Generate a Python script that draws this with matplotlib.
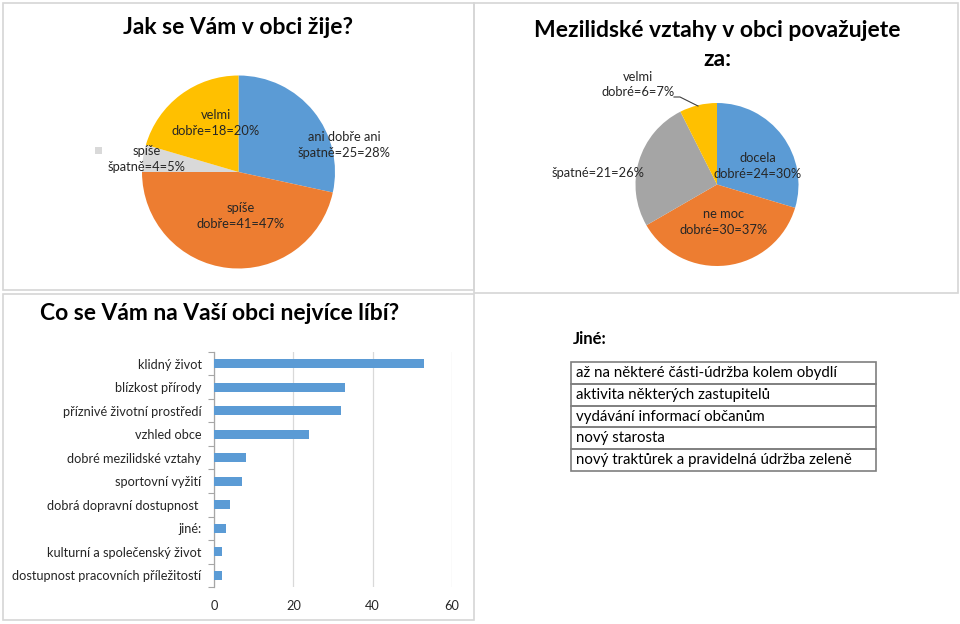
import matplotlib
matplotlib.use("Agg")
import matplotlib.pyplot as plt
from matplotlib.patches import Rectangle
from matplotlib.lines import Line2D

plt.rcParams["font.family"] = ["Lato", "DejaVu Sans"]

W, H = 960, 624

# --- data -----------------------------------------------------------
life_labels = ["ani dobře ani\nšpatně=25=28%", "spíše\ndobře=41=47%",
               "spíše\nšpatně=4=5%", "velmi\ndobře=18=20%"]
life_values = [25, 41, 4, 18]
life_colors = ["#5b9bd5", "#ed7d31", "#d9d9d9", "#ffc000"]

rel_labels = ["docela\ndobré=24=30%", "ne moc\ndobré=30=37%",
              "špatné=21=26%", "velmi\ndobré=6=7%"]
rel_values = [24, 30, 21, 6]
rel_colors = ["#5b9bd5", "#ed7d31", "#a5a5a5", "#ffc000"]

like_labels = ["klidný život", "blízkost přírody", "příznivé životní prostředí",
               "vzhled obce", "dobré mezilidské vztahy", "sportovní vyžití",
               "dobrá dopravní dostupnost ", "jiné:", "kulturní a společenský život",
               "dostupnost pracovních příležitostí"]
like_values = [53, 33, 32, 24, 8, 7, 4, 3, 2, 2]
x_ticks = [0, 20, 40, 60]

other_title = "Jiné:"
other_rows = ["až na některé části-údržba kolem obydlí",
              "aktivita některých zastupitelů",
              "vydávání informací občanům",
              "nový starosta",
              "nový traktůrek a pravidelná údržba zeleně"]


def rect(x0, y0, x1, y1):
    """pixel box -> figure fraction [left, bottom, width, height]"""
    return [x0 / W, 1 - y1 / H, (x1 - x0) / W, (y1 - y0) / H]


def fx(x):
    return x / W


def fy(y):
    return 1 - y / H


fig = plt.figure(figsize=(W / 100, H / 100), dpi=100)
fig.patch.set_facecolor("white")

# panel frames
for x0, y0, x1, y1 in [(3, 3, 474, 290), (474, 3, 958, 293), (3, 294, 474, 620)]:
    fig.add_artist(Rectangle((fx(x0), fy(y1)), fx(x1) - fx(x0), fy(y0) - fy(y1),
                             transform=fig.transFigure, fill=False,
                             edgecolor="#d6d6d6", linewidth=1.2))

# ------------------------------------------------------------------
# Pie 1 : Jak se Vám v obci žije?
# ------------------------------------------------------------------
cx, cy, r = 238.5, 172, 96.5
ax1 = fig.add_axes(rect(cx - r, cy - r, cx + r, cy + r))
ax1.pie(life_values, colors=life_colors, startangle=90, counterclock=False,
        radius=1, wedgeprops={"linewidth": 0})
ax1.set_xlim(-1, 1)
ax1.set_ylim(-1, 1)
ax1.set_aspect("equal")
ax1.axis("off")

fig.text(fx(238), fy(28), "Jak se Vám v obci žije?", fontsize=16.5,
         fontweight="bold", ha="center", va="center", color="black")

life_pos = [(344, 145), (241, 216), (147, 159), (216, 123)]
for lab, (px, py) in zip(life_labels, life_pos):
    fig.text(fx(px), fy(py), lab, ha="center", va="center", fontsize=9.3,
             color="#262626", linespacing=1.35)
# stray legend key
fig.add_artist(Rectangle((fx(95), fy(154)), 7 / W, 7 / H, transform=fig.transFigure,
                         facecolor="#d9d9d9", edgecolor="none"))

# ------------------------------------------------------------------
# Pie 2 : Mezilidské vztahy
# ------------------------------------------------------------------
cx, cy, r = 717, 184.5, 81.5
ax2 = fig.add_axes(rect(cx - r, cy - r, cx + r, cy + r))
ax2.pie(rel_values, colors=rel_colors, startangle=90, counterclock=False,
        radius=1, wedgeprops={"linewidth": 0})
ax2.set_xlim(-1, 1)
ax2.set_ylim(-1, 1)
ax2.set_aspect("equal")
ax2.axis("off")

fig.text(fx(717), fy(45), "Mezilidské vztahy v obci považujete\nza:", fontsize=16.5,
         fontweight="bold", ha="center", va="center", color="black", linespacing=1.45)

rel_pos = [(758, 166), (724, 222), (598, 173), (638, 84.5)]
for lab, (px, py) in zip(rel_labels, rel_pos):
    fig.text(fx(px), fy(py), lab, ha="center", va="center", fontsize=9.3,
             color="#262626", linespacing=1.35)
# leader line for the small slice
fig.add_artist(Line2D([fx(674), fx(680), fx(698)], [fy(97), fy(97), fy(106)],
                      transform=fig.transFigure, color="#404040", linewidth=0.8))

# ------------------------------------------------------------------
# Bar chart : Co se Vám na Vaší obci nejvíce líbí?
# ------------------------------------------------------------------
fig.text(fx(40), fy(313), "Co se Vám na Vaší obci nejvíce líbí?", fontsize=16.5,
         fontweight="bold", ha="left", va="center", color="black")

ax3 = fig.add_axes(rect(214, 352, 452, 587))
ypos = list(range(len(like_labels)))
ax3.barh(ypos, like_values, height=0.4, color="#5b9bd5", zorder=3)
ax3.set_ylim(len(like_labels) - 0.5, -0.5)
ax3.set_xlim(0, 60)
ax3.set_xticks(x_ticks)
ax3.set_yticks(ypos)
ax3.set_yticklabels(like_labels)
ax3.set_yticks([i - 0.5 for i in range(len(like_labels) + 1)], minor=True)
ax3.tick_params(axis="y", which="major", length=0, pad=9, labelsize=9.2,
                labelcolor="#262626")
ax3.tick_params(axis="y", which="minor", length=4, color="#a6a6a6", width=0.8)
ax3.tick_params(axis="x", length=0, pad=9, labelsize=9.2, labelcolor="#262626")
ax3.grid(axis="x", color="#d9d9d9", linewidth=0.9, zorder=0)
for s in ["top", "right", "bottom"]:
    ax3.spines[s].set_visible(False)
ax3.spines["left"].set_color("#a6a6a6")
ax3.spines["left"].set_linewidth(0.9)

# ------------------------------------------------------------------
# Table : Jiné
# ------------------------------------------------------------------
fig.text(fx(573), fy(339), other_title, fontsize=12, fontweight="bold",
         ha="left", va="center", color="black")
tx0, tx1, ty0, ty1 = 571, 876, 362, 471
row_h = (ty1 - ty0) / len(other_rows)
for i, row in enumerate(other_rows):
    top = ty0 + i * row_h
    fig.add_artist(Rectangle((fx(tx0), fy(top + row_h)), fx(tx1) - fx(tx0),
                             row_h / H, transform=fig.transFigure, fill=False,
                             edgecolor="#7f7f7f", linewidth=1.2))
    fig.text(fx(576), fy(top + row_h / 2), row, fontsize=10.8, ha="left",
             va="center", color="black")

fig.savefig("out.png", dpi=100)
